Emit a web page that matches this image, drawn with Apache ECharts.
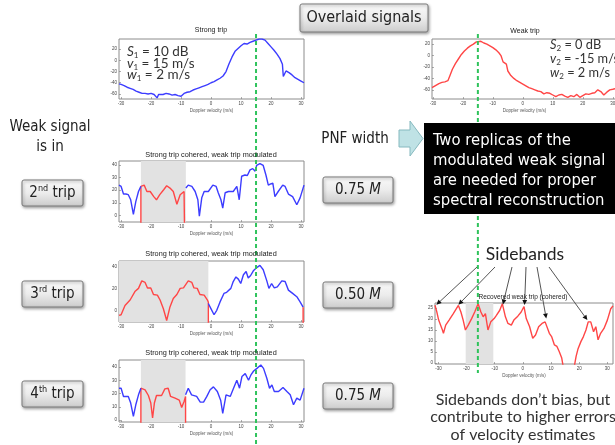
<!DOCTYPE html>
<html><head><meta charset="utf-8">
<script src="https://cdn.jsdelivr.net/npm/echarts@6/dist/echarts.min.js"></script>
<style>html,body{margin:0;padding:0;background:#fff}#main{width:615px;height:445px}</style>
</head><body><div id="main"></div>
<script>
// ---------------- DATA ----------------
const xTicks = [-30, -20, -10, 0, 10, 20, 30];
const yTicksStrong = [-60, -40, -20, 0, 20];
const yTicksWeak = [-60, -40, -20, 0, 20];
const yTicksTrip2 = [0, 10, 20, 30, 40];
const yTicksTrip3 = [0, 20, 40];
const yTicksTrip4 = [0, 10, 20, 30, 40];
const yTicksRecov = [0, 5, 10, 15, 20, 25];

const strongParams = ['10 dB', '15 m/s', '2 m/s'];
const weakParams = ['0 dB', '-15 m/s', '2 m/s'];
const tripLabels = ['2', '3', '4'];
const tripSuffix = ['nd', 'rd', 'th'];
const pnfWidths = ['0.75', '0.50', '0.75'];
const strongVel = 15;
const weakVel = -15;

const strongTrip = [[-30.7,-42],[-30,-43],[-29,-45],[-28,-48],[-27,-50],[-26,-52],[-25,-55],[-24,-57],[-23,-59],[-22,-59],[-21,-60],[-20,-59],[-19,-61],[-18.5,-60],[-18,-67],[-17.5,-61],[-17,-60],[-16,-61],[-15,-59],[-14,-60],[-13,-62],[-12,-61],[-11,-63],[-10.5,-66],[-10,-64],[-9,-59],[-8,-57],[-7,-56],[-6,-53],[-5,-51],[-4,-49],[-3,-47],[-2,-45],[-1,-43],[0,-40],[1,-38],[2,-35],[3,-32],[4,-28],[5,-20],[6,-6],[7,6],[8,16],[9,21],[10,26],[11,30],[12,29],[13,32],[14,34],[15,36],[16,38],[17,38],[18,36],[19,30],[20,24],[21,18],[22,11],[23,3],[23.8,-7],[24.1,-29],[25,-19],[26,-22],[27,-26],[28,-31],[29,-34],[30,-37],[31,-40]];

const weakTrip = [[-30.3,-56],[-30,-55],[-29,-52],[-28,-49],[-27,-47],[-26,-46],[-25,-44],[-24.4,-36],[-23.5,-24],[-22.5,-14],[-21.5,-6],[-20.5,2],[-19.5,8],[-18.5,13],[-17.5,17],[-16.5,20],[-15.5,24],[-15,27],[-14,25],[-13,22],[-12,20],[-11,17],[-10,14],[-9,10],[-8,5],[-7.3,0],[-6.6,-11],[-6,-12],[-5.5,-15],[-5,-27],[-4,-35],[-3,-40],[-2,-44],[-1,-47],[0,-50],[1,-53],[2,-56],[3,-58],[4,-60],[5,-62],[6,-63],[7,-67],[8,-65],[9,-66],[10,-69],[11,-72],[12,-69],[13,-68],[14,-71],[15,-73],[16,-70],[17,-72],[18,-68],[19,-73],[20,-70],[21,-67],[22,-68],[23,-66],[24,-65],[25,-60],[26,-63],[27,-69],[28,-64],[29,-60],[30,-59],[31.4,-57]];

const trip2StrongA = [[-30.7,24],[-30,23],[-29.2,17],[-28.4,17],[-27.6,16.5],[-26.8,12.5],[-25.9,1],[-25.1,11],[-24.2,19],[-23.4,23]];
const trip2Weak = [[-23.4,-100],[-23.4,23],[-23.1,24],[-22.3,24],[-21.4,19],[-20.3,19],[-19.1,15],[-18.2,12.5],[-17.1,16.5],[-15.8,20.4],[-14.8,23.5],[-13.7,21.7],[-12.6,19],[-11.4,9],[-10.3,16.5],[-9,19],[-8.4,19],[-8.4,-100]];
const trip2StrongB = [[-8.4,21.7],[-7.6,24],[-6.4,23],[-5.3,19],[-4.4,12.5],[-3.9,-0.5],[-3.1,14],[-2.3,19],[-0.9,19],[0.6,24],[1.7,23],[2.4,18],[3.3,12.5],[3.9,6],[4.7,18],[5.8,19],[7.4,19],[8.6,23],[9.4,12.5],[10.2,31],[11.3,32],[12.1,31.6],[13,36],[13.9,37],[14.7,35],[15.2,39.5],[16.3,41],[17.4,39.5],[18.3,32],[19.1,24],[19.9,25],[20.6,25.6],[21.3,15],[22.4,19],[23.9,24],[24.7,23],[25.8,17],[27.2,15],[28.6,8.6],[29.7,14],[31,24]];
const trip2Notch = [-23.4, -8.4];

const trip3Weak = [[-30.7,-4],[-30,-3.4],[-28.7,5],[-27,10],[-25.3,18],[-24.2,20.6],[-23.1,27.4],[-22,26],[-21.2,21],[-20.1,21],[-19.2,15],[-17.9,14.5],[-17,10],[-15.9,2],[-14.8,-8.6],[-13.7,3.7],[-12.6,11.4],[-11.4,15],[-10.3,20.6],[-9.2,21],[-7.6,27.4],[-6.4,26],[-5.7,21],[-4.6,20.6],[-3.7,15],[-2.3,14.5],[-1.2,10],[-0.9,8],[-0.9,-100]];
const trip3Strong = [[-0.9,6.8],[0,2],[1,-3.4],[1.9,0.6],[3,8.3],[4.3,16],[5.2,17],[6.6,20.6],[7.4,26.8],[8.3,31],[9.1,29],[9.9,25],[10.8,33],[11.7,36],[12.4,30],[13.2,32.3],[14.1,36.6],[15,39],[16.3,41.5],[17.4,37.5],[18.6,27.4],[19.3,20.6],[20.2,25],[21.1,21],[22.1,22],[23.6,27.4],[24.7,26.8],[25.8,19],[27.2,16],[28.6,13],[29.7,8.3],[30.7,3.5]];
const trip3WeakWrap = [[30.7,3.5],[30.7,-100]];
const trip3Notch = [-30.7, -0.9];

const trip4StrongA = [[-30.7,24],[-30,24],[-29.2,17.8],[-27.6,17.8],[-26.8,12.8],[-25.9,2.8],[-25.1,11.5],[-24.2,19],[-23.4,24]];
const trip4Weak = [[-23.4,-100],[-23.4,24],[-22.8,24.5],[-22,22.8],[-20.9,18.5],[-20.1,12.8],[-19.5,1.5],[-18.9,12.8],[-18.2,18.5],[-16.5,18.5],[-15.4,23.5],[-14.3,24],[-13.5,17.8],[-12,16.5],[-10.6,15],[-9.8,9.5],[-9,14],[-8.5,17.8],[-8.5,-100]];
const trip4StrongB = [[-8.5,19],[-7.6,24],[-6.5,19],[-4.8,17.8],[-3.6,13.5],[-2.5,13.5],[-1.4,17.8],[-0.3,22.8],[0.8,25],[2.1,21.5],[3.2,15],[3.9,5],[5,19],[6.4,17.8],[7.5,24],[8.6,30],[9.5,24],[10.3,32.8],[11.4,35],[12.5,30],[13.3,34],[14.2,37],[15.3,39],[16.6,41.5],[17.5,39],[18.6,31.5],[19.5,24],[20.3,26.5],[21.1,21.5],[22.5,21.5],[24,24.5],[25.3,21.5],[26.4,19],[27.5,11.5],[28.6,16.5],[29.7,15],[31,24]];
const trip4Notch = [-23.4, -8.5];

const recovered = [[-31.2,26.3],[-30.6,23.5],[-29.9,19.5],[-29.3,18.7],[-28.7,15.5],[-28.2,13.5],[-27.4,17.2],[-26.2,19.5],[-24.7,22.5],[-22.9,26.2],[-22,23.2],[-21.2,19.5],[-20.4,15],[-19.4,17.2],[-18.2,20.2],[-17.1,23.2],[-15.9,27],[-14.9,23.2],[-14.1,21],[-13.3,22.5],[-12.4,15],[-11.4,18.7],[-10.2,20.2],[-9.4,21.7],[-8.2,24],[-7.3,27],[-6.2,21],[-5.3,18],[-4.1,17.2],[-3.2,19.5],[-1.8,21.3],[-0.6,23.2],[0.4,25.7],[1.2,20.2],[2.4,16.5],[3.5,11.2],[4.5,12.7],[5.6,16.5],[6.8,18],[7.9,18.7],[8.6,19.5],[9.4,13.5],[10.2,12],[11.2,8.2],[12.1,7.5],[12.9,5.2],[13.8,2.2],[14.5,-3],[16,-8],[18.2,-2],[18.9,3],[19.6,6.5],[20.6,9.7],[21.5,12],[22.4,15],[23.2,18.7],[24.1,18.7],[25.1,14.2],[25.9,16.5],[26.7,10.5],[27.6,13.5],[28.8,15.7],[30,19.5],[31.2,24.7],[32,26]];
const recovNotch = [-20.3, -10.5];
const sidebandPts = [[-30.7,26.5],[-22.9,26.5],[-7.1,26.6],[0.6,26.4],[8.3,20.2],[22.9,19.5]];

// ---------------- STYLE / LAYOUT ----------------
const SANS = "'DejaVu Sans Condensed','DejaVu Sans',sans-serif";
const HUM = "Lato,'Open Sans',sans-serif";
const PLOT = "'Liberation Sans',Arial,sans-serif";
const BLUE = '#3c3cff', RED = '#ff4646', GRAY = '#e2e2e2', GREEN = '#2fc35c';

const grids = [
  {left:119, top:39, width:185, height:60},
  {left:432, top:39, width:185, height:60},
  {left:119, top:161, width:185, height:61},
  {left:119, top:261, width:185, height:61},
  {left:119, top:360, width:185, height:62},
  {left:435, top:303, width:178, height:61}
].map(g => Object.assign({show:true, borderColor:'#8c8c8c', borderWidth:1, backgroundColor:'#fff', containLabel:false, outerBoundsMode:'none'}, g));

const xRanges = [[-30.7,31],[-30.3,31.4],[-30.7,31],[-30.7,31],[-30.7,31],[-31.2,32]];
const yRanges = [[-69,38],[-76,29],[-5,43],[-10,45.5],[-1.5,45.3],[-0.5,27.3]];
const yTickSets = [yTicksStrong, yTicksWeak, yTicksTrip2, yTicksTrip3, yTicksTrip4, yTicksRecov];

const xAxes = xRanges.map((r, i) => ({
  type:'value', gridIndex:i, min:r[0], max:r[1], position:'bottom',
  name:'Doppler velocity (m/s)', nameLocation:'middle', nameGap:9,
  nameTextStyle:{fontSize:4.5, color:'#555', fontFamily:PLOT},
  axisLine:{show:false, onZero:false},
  axisTick:{show:true, inside:true, length:2, lineStyle:{color:'#777', width:0.6}, customValues:xTicks},
  axisLabel:{fontSize:4.5, color:'#444', margin:2, fontFamily:PLOT, customValues:xTicks},
  splitLine:{show:false}
}));
const yAxes = yRanges.map((r, i) => ({
  type:'value', gridIndex:i, min:r[0], max:r[1], position:'left',
  axisLine:{show:false, onZero:false},
  axisTick:{show:true, inside:true, length:2, lineStyle:{color:'#777', width:0.6}, customValues:yTickSets[i]},
  axisLabel:{fontSize:4.5, color:'#444', margin:2, fontFamily:PLOT, customValues:yTickSets[i]},
  splitLine:{show:false}
}));

function line(data, color, gi, extra) {
  return Object.assign({type:'line', data:data, xAxisIndex:gi, yAxisIndex:gi, symbol:'none', showSymbol:false,
    lineStyle:{color:color, width:1.4}, itemStyle:{color:color}, clip:true, animation:false, z:3, silent:true}, extra || {});
}
function notch(range) {
  return {markArea:{silent:true, itemStyle:{color:GRAY}, data:[[{xAxis:range[0]},{xAxis:range[1]}]]}};
}

const series = [
  line(strongTrip, BLUE, 0),
  line(weakTrip, RED, 1),
  line(trip2Weak, RED, 2, notch(trip2Notch)),
  line(trip2StrongA, BLUE, 2),
  line(trip2StrongB, BLUE, 2),
  line(trip3Weak, RED, 3, notch(trip3Notch)),
  line(trip3Strong, BLUE, 3),
  line(trip3WeakWrap, RED, 3),
  line(trip4Weak, RED, 4, notch(trip4Notch)),
  line(trip4StrongA, BLUE, 4),
  line(trip4StrongB, BLUE, 4),
  line(recovered, RED, 5, notch(recovNotch))
];

const chart = echarts.init(document.getElementById('main'), null, {renderer:'canvas'});
chart.setOption({animation:false, backgroundColor:'#fff', grid:grids, xAxis:xAxes, yAxis:yAxes, series:series});

// ---------------- GRAPHICS ----------------
const G = [];
function txt(x, y, text, o) {
  const st = Object.assign({x:x, y:y, text:text, fill:'#222', fontSize:15, fontFamily:SANS,
    align:'center', verticalAlign:'middle', textAlign:'center', textVerticalAlign:'middle'}, o || {});
  return {type:'text', z:12, silent:true, style:st};
}
function grad() {
  return new echarts.graphic.LinearGradient(0,0,0,1,[{offset:0,color:'#fafafa'},{offset:0.5,color:'#ececec'},{offset:1,color:'#cbcbcb'}]);
}
function button(x, y, w, h, text, rich) {
  G.push({type:'rect', z:10, silent:true, shape:{x:x, y:y, width:w, height:h, r:2},
    style:{fill:grad(), stroke:'#7a7a7a', lineWidth:1, shadowBlur:3, shadowOffsetX:1, shadowOffsetY:1.5, shadowColor:'rgba(0,0,0,0.35)'}});
  G.push(txt(x + w/2, y + h/2, text, rich ? {rich:rich} : {}));
}
const mainRich = {
  a:{fontSize:15, fontFamily:SANS, fill:'#222', color:'#222', lineHeight:18, verticalAlign:'middle'},
  s:{fontSize:9, fontFamily:SANS, fill:'#222', color:'#222', verticalAlign:'top'},
  m:{fontSize:15, fontFamily:SANS, fill:'#222', color:'#222', fontStyle:'italic', lineHeight:18, verticalAlign:'middle'}
};

// plot titles
G.push(txt(211, 30, 'Strong trip', {fontSize:7, fontFamily:PLOT}));
G.push(txt(525, 31, 'Weak trip', {fontSize:7, fontFamily:PLOT}));
[155, 254, 353].forEach(y => G.push(txt(211, y, 'Strong trip cohered, weak trip modulated', {fontSize:7.3, fontFamily:PLOT})));
G.push(txt(523, 297, 'Recovered weak trip (cohered)', {fontSize:6.5, fontFamily:PLOT}));

// parameter annotations
function params(x, ys, idx, vals, size) {
  const syms = ['S', 'v', 'w'];
  const rich = {
    i:{fontSize:size, fontFamily:HUM, fontStyle:'italic', fill:'#333', color:'#333', lineHeight:15, verticalAlign:'middle'},
    s:{fontSize:8, fontFamily:HUM, fill:'#333', color:'#333', verticalAlign:'bottom'},
    r:{fontSize:size, fontFamily:HUM, fill:'#333', color:'#333', lineHeight:15, verticalAlign:'middle'}
  };
  ys.forEach((y, k) => G.push(txt(x, y, '{i|' + syms[k] + '}{s|' + idx + '}{r| = ' + vals[k] + '}',
    {rich:rich, align:'left', textAlign:'left'})));
}
params(127, [52, 63.5, 75], '1', strongParams, 13.5);
params(550, [45, 59, 73], '2', weakParams, 12.8);

// overlaid signals
button(300, 4, 128, 28, '{a|Overlaid signals}', {a:Object.assign({}, mainRich.a, {fontSize:16})});

// left column
G.push(txt(50, 117, 'Weak signal\nis in', {verticalAlign:'top', textVerticalAlign:'top', lineHeight:20}));
const tripBoxY = [180, 281, 381];
tripBoxY.forEach((y, k) => button(22, y, 61, 26, '{a|' + tripLabels[k] + '}{s|' + tripSuffix[k] + '}{a| trip}', mainRich));

// PNF column
G.push(txt(355, 139, 'PNF width'));
const pnfBoxY = [177, 282, 383];
pnfBoxY.forEach((y, k) => button(323, y, 70, 26, '{a|' + pnfWidths[k] + ' }{m|M}', mainRich));

// block arrow
G.push({type:'polygon', z:10, silent:true, shape:{points:[[399,130],[410,130],[410,121],[423,138.5],[410,156],[410,147],[399,147]]},
  style:{fill:'#bfe2e5', stroke:'#86b9bf', lineWidth:1}});

// green dashed lines
const gxL = chart.convertToPixel({xAxisIndex:0}, strongVel);
const gxR = chart.convertToPixel({xAxisIndex:1}, weakVel);
G.push({type:'line', z:8, silent:true, shape:{x1:gxL, y1:34, x2:gxL, y2:445}, style:{stroke:GREEN, lineWidth:2, lineDash:[4,3]}});
G.push({type:'line', z:8, silent:true, shape:{x1:gxR, y1:34, x2:gxR, y2:373}, style:{stroke:GREEN, lineWidth:2, lineDash:[4,3]}});

// black box
G.push({type:'rect', z:13, silent:true, shape:{x:424, y:123, width:192, height:91}, style:{fill:'#000'}});
G.push(Object.assign(txt(433, 131, 'Two replicas of the\nmodulated weak signal\nare needed for proper\nspectral reconstruction',
  {fill:'#fff', fontSize:16.5, lineHeight:20, align:'left', textAlign:'left', verticalAlign:'top', textVerticalAlign:'top'}), {z:14}));

// sidebands
G.push(txt(525, 254, 'Sidebands', {fontFamily:HUM, fontSize:17.5, fill:'#222'}));
const arrowStarts = [[477,267],[495,267],[512,267],[526,267],[537,267],[549,267]];
sidebandPts.forEach((p, k) => {
  const e = chart.convertToPixel({gridIndex:5}, p);
  const s = arrowStarts[k];
  const dx = e[0]-s[0], dy = e[1]-s[1], L = Math.hypot(dx, dy), ux = dx/L, uy = dy/L;
  const hl = 5, hw = 2.4;
  const bx = e[0]-ux*hl, by = e[1]-uy*hl;
  G.push({type:'line', z:9, silent:true, shape:{x1:s[0], y1:s[1], x2:bx, y2:by}, style:{stroke:'#555', lineWidth:1}});
  G.push({type:'polygon', z:9, silent:true, shape:{points:[[e[0],e[1]],[bx-uy*hw,by+ux*hw],[bx+uy*hw,by-ux*hw]]}, style:{fill:'#111'}});
});

G.push(txt(523, 391, "Sidebands don\u2019t bias, but\ncontribute to higher errors\nof velocity estimates",
  {fontFamily:HUM, fontSize:16, fill:'#333', lineHeight:17.5, verticalAlign:'top', textVerticalAlign:'top'}));

chart.setOption({graphic:{elements:G}});
</script></body></html>
